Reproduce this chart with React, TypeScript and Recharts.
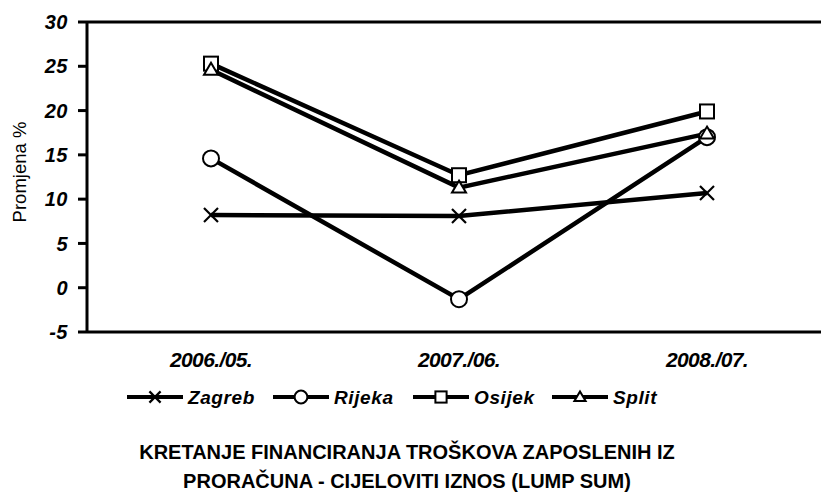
import React from 'react';
import { LineChart, Line, XAxis, YAxis, ReferenceLine, Legend, Label } from 'recharts';

const categories = ['2006./05.', '2007./06.', '2008./07.'];
const zagreb = [8.2, 8.1, 10.7];
const rijeka = [14.6, -1.3, 17.0];
const osijek = [25.3, 12.7, 19.9];
const split = [24.6, 11.3, 17.4];
const yTicks = [-5, 0, 5, 10, 15, 20, 25, 30];
const seriesNames = ['Zagreb', 'Rijeka', 'Osijek', 'Split'];

const data = categories.map((c, i) => ({
  cat: c,
  Zagreb: zagreb[i],
  Rijeka: rijeka[i],
  Osijek: osijek[i],
  Split: split[i],
}));

const FONT = '"Liberation Sans", Arial, sans-serif';

type Shape = 'x' | 'circle' | 'square' | 'triangle';
const shapes: Record<string, Shape> = { Zagreb: 'x', Rijeka: 'circle', Osijek: 'square', Split: 'triangle' };

function Marker({ shape, cx, cy, k = 1 }: { shape: Shape; cx: number; cy: number; k?: number }) {
  if (shape === 'x') {
    const s = 7 * k;
    return (
      <g>
        <line x1={cx - s} y1={cy - s} x2={cx + s} y2={cy + s} stroke="#000" strokeWidth={2.2} />
        <line x1={cx - s} y1={cy + s} x2={cx + s} y2={cy - s} stroke="#000" strokeWidth={2.2} />
      </g>
    );
  }
  if (shape === 'circle') {
    return <circle cx={cx} cy={cy} r={8 * k} fill="#fff" stroke="#000" strokeWidth={2} />;
  }
  if (shape === 'square') {
    const h = 7 * k;
    return <rect x={cx - h} y={cy - h} width={2 * h} height={2 * h} fill="#fff" stroke="#000" strokeWidth={2} />;
  }
  const t = 7 * k;
  return (
    <polygon
      points={`${cx},${cy - t} ${cx + t},${cy + t * 0.7} ${cx - t},${cy + t * 0.7}`}
      fill="#fff"
      stroke="#000"
      strokeWidth={2}
    />
  );
}

const makeDot = (shape: Shape) => (props: any) => {
  const { cx, cy, index } = props;
  if (cx == null || cy == null) return <g key={index} />;
  return (
    <g key={`${shape}-${index}`}>
      <Marker shape={shape} cx={cx} cy={cy} />
    </g>
  );
};

const legendStarts = [127, 273, 413, 552];

const renderLegend = () => (
  <svg width={821} height={34} style={{ display: 'block' }}>
    {seriesNames.map((n, i) => {
      const x0 = legendStarts[i];
      return (
        <g key={n}>
          <line x1={x0} y1={17} x2={x0 + 56} y2={17} stroke="#000" strokeWidth={4} />
          <Marker shape={shapes[n]} cx={x0 + 28} cy={17} k={0.8} />
          <text
            x={x0 + 61}
            y={23.5}
            fontFamily={FONT}
            fontSize={19}
            fontWeight="bold"
            fontStyle="italic"
            letterSpacing={0.6}
            fill="#000"
          >
            {n}
          </text>
        </g>
      );
    })}
  </svg>
);

const YLabel = () => (
  <text
    x={19}
    y={172}
    transform="rotate(-90 19 172)"
    textAnchor="middle"
    dominantBaseline="central"
    fontFamily={FONT}
    fontSize={18.5}
    fill="#000"
  >
    Promjena %
  </text>
);

export default function App() {
  return (
    <div
      style={{
        position: 'absolute',
        left: 0,
        top: 0,
        width: 821,
        height: 492,
        overflow: 'hidden',
        background: '#fff',
        fontFamily: FONT,
      }}
    >
      <LineChart width={831} height={492} data={data} margin={{ top: 22, right: 0, bottom: 120, left: 0 }}>
        <XAxis
          dataKey="cat"
          padding={{ left: 124, right: 124 }}
          axisLine={{ stroke: '#000', strokeWidth: 3 }}
          tickLine={false}
          tickSize={0}
          tickMargin={20}
          height={40}
          tick={{ fill: '#000', fontSize: 21, fontWeight: 'bold', fontStyle: 'italic', fontFamily: FONT, letterSpacing: -0.6 }}
        />
        <YAxis
          width={87}
          domain={[-5, 30]}
          ticks={yTicks}
          interval={0}
          axisLine={{ stroke: '#000', strokeWidth: 3 }}
          tickLine={{ stroke: '#000', strokeWidth: 3 }}
          tickSize={9}
          tickMargin={10}
          tick={{ fill: '#000', fontSize: 20, fontWeight: 'bold', fontStyle: 'italic', fontFamily: FONT, letterSpacing: 0.5 }}
        >
          <Label content={<YLabel />} />
        </YAxis>
        <ReferenceLine y={30} stroke="#000" strokeWidth={3} />
        {seriesNames.map((n) => (
          <Line
            key={n}
            dataKey={n}
            type="linear"
            stroke="#000"
            strokeWidth={4.5}
            dot={makeDot(shapes[n])}
            activeDot={false}
            isAnimationActive={false}
          />
        ))}
        <Legend
          layout="horizontal"
          verticalAlign="middle"
          align="center"
          content={renderLegend}
          wrapperStyle={{ top: 380, left: 0, width: 821, height: 34 }}
        />
      </LineChart>
      <div
        style={{
          position: 'absolute',
          left: 0,
          top: 438,
          width: 814,
          textAlign: 'center',
          fontFamily: FONT,
          fontSize: 20,
          fontWeight: 'bold',
          lineHeight: '29px',
          color: '#000',
        }}
      >
        KRETANJE FINANCIRANJA TROŠKOVA ZAPOSLENIH IZ
        <br />
        PRORAČUNA - CIJELOVITI IZNOS (LUMP SUM)
      </div>
    </div>
  );
}
